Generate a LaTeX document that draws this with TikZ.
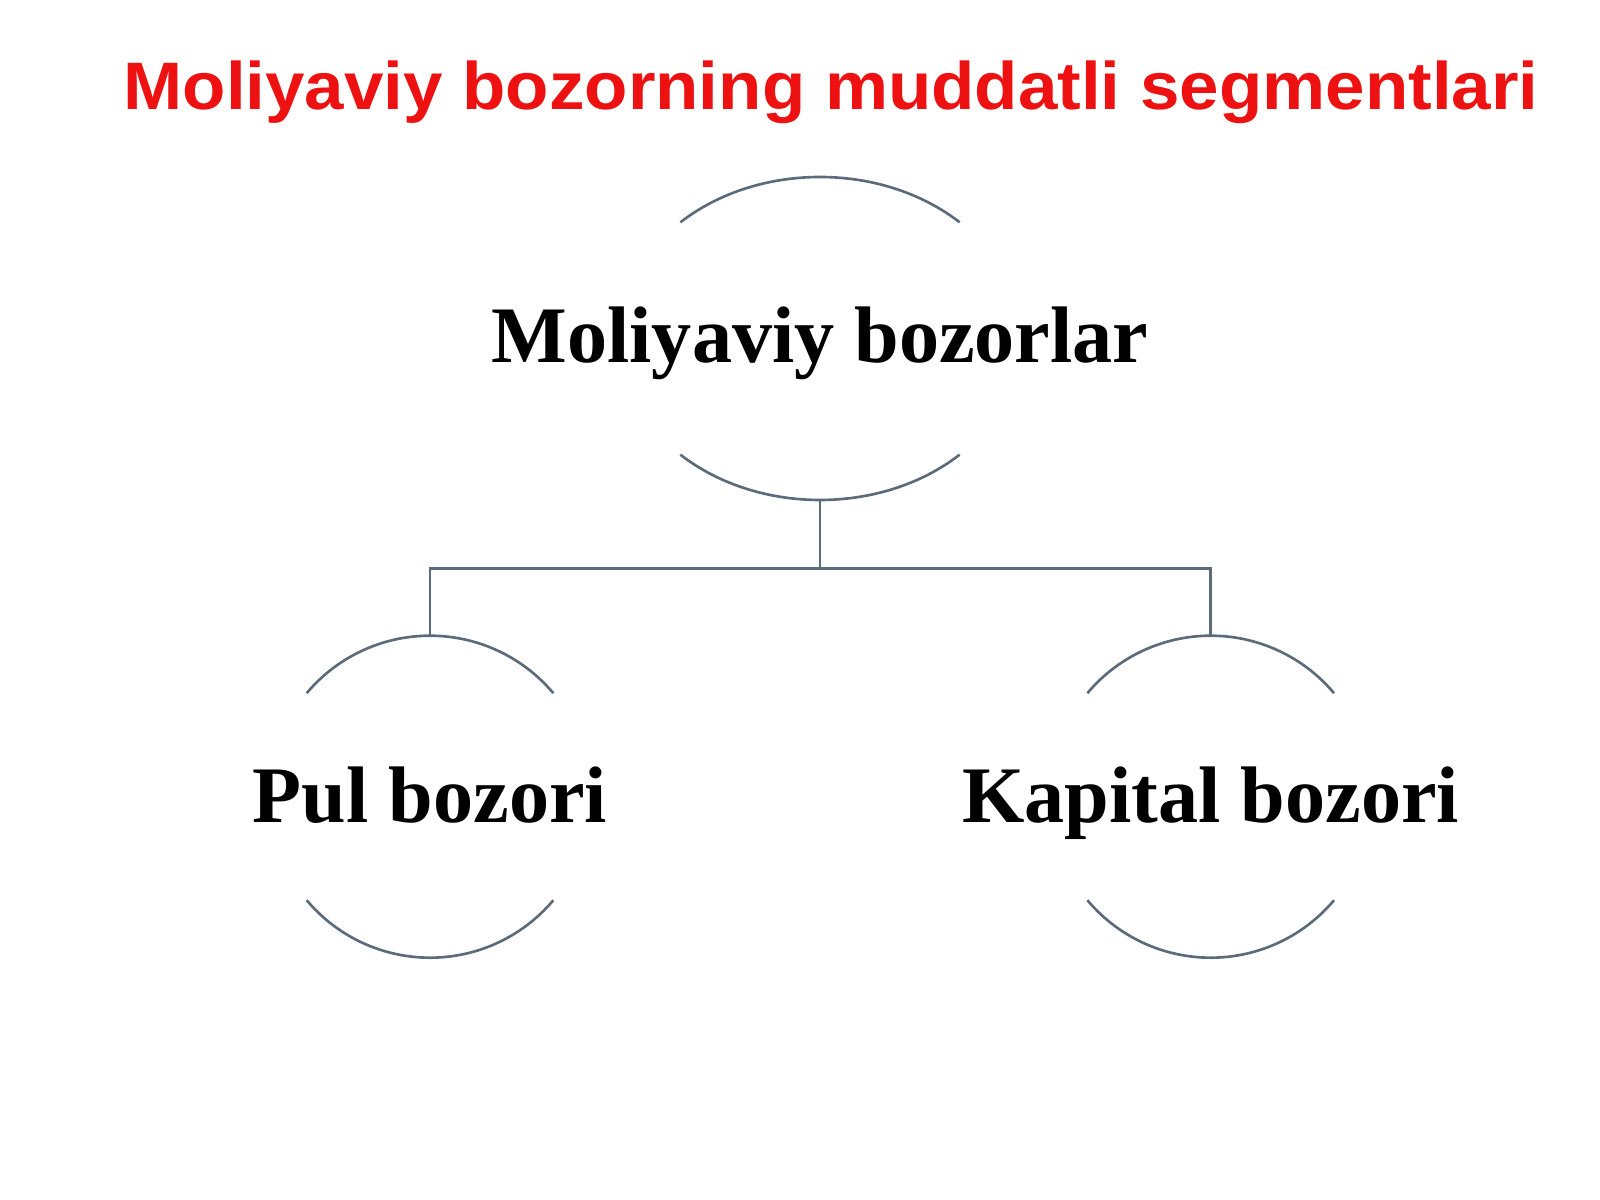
\documentclass[tikz,border=0pt]{standalone}
\usepackage{fontspec}
\setmainfont{Liberation Serif}
\newfontfamily\headfont[FakeStretch=1.056]{Liberation Sans}
\usetikzlibrary{shapes.geometric}
\definecolor{linkgray}{HTML}{5B6B7A}
\definecolor{headred}{HTML}{EE1111}

\begin{document}
\begin{tikzpicture}[x=0.01cm,y=0.01cm,
  bubble/.style={ellipse,draw=none,inner sep=0pt,outer sep=0pt},
  label/.style={anchor=base,font=\fontsize{22.8pt}{27pt}\selectfont\bfseries},
  rim/.style={linkgray,line width=0.75pt},
  link/.style={linkgray,line width=0.75pt}]
\useasboundingbox (0,0) rectangle (1600,1200);

% heading
\node [anchor=base,text=headred,font=\headfont\fontsize{19.1pt}{23pt}\selectfont\bfseries] (head) at (831,1090) {Moliyaviy bozorning muddatli segmentlari};

% the top bubble
\node [bubble,minimum width=4.02cm,minimum height=3.23cm] (fin) at (820,861.5) {};
\node [label] (finlab) at (820,837) {Moliyaviy bozorlar};
\draw [rim] (fin.center) ++(46:201 and 161.5) arc [start angle=46,end angle=134,x radius=201,y radius=161.5];
\draw [rim] (fin.center) ++(226:201 and 161.5) arc [start angle=226,end angle=314,x radius=201,y radius=161.5];

% the two lower bubbles
\node [bubble,minimum width=3.22cm,minimum height=3.22cm] (pul) at (430,403.3) {};
\node [label] (pullab) at (430,377.3) {Pul bozori};
\node [bubble,minimum width=3.22cm,minimum height=3.22cm] (kap) at (1210.7,403.3) {};
\node [label] (kaplab) at (1210.7,377.3) {Kapital bozori};
\foreach \b in {pul,kap} {
  \draw [rim] (\b.center) ++(40:161) arc [start angle=40,end angle=140,radius=161];
  \draw [rim] (\b.center) ++(220:161) arc [start angle=220,end angle=320,radius=161];
}

% connectors
\coordinate (fork) at (820,631.7);
\draw [link] (fin.south) -- (fork);
\draw [link] (fork) -| (pul.north);
\draw [link] (fork) -| (kap.north);

\end{tikzpicture}
\end{document}
